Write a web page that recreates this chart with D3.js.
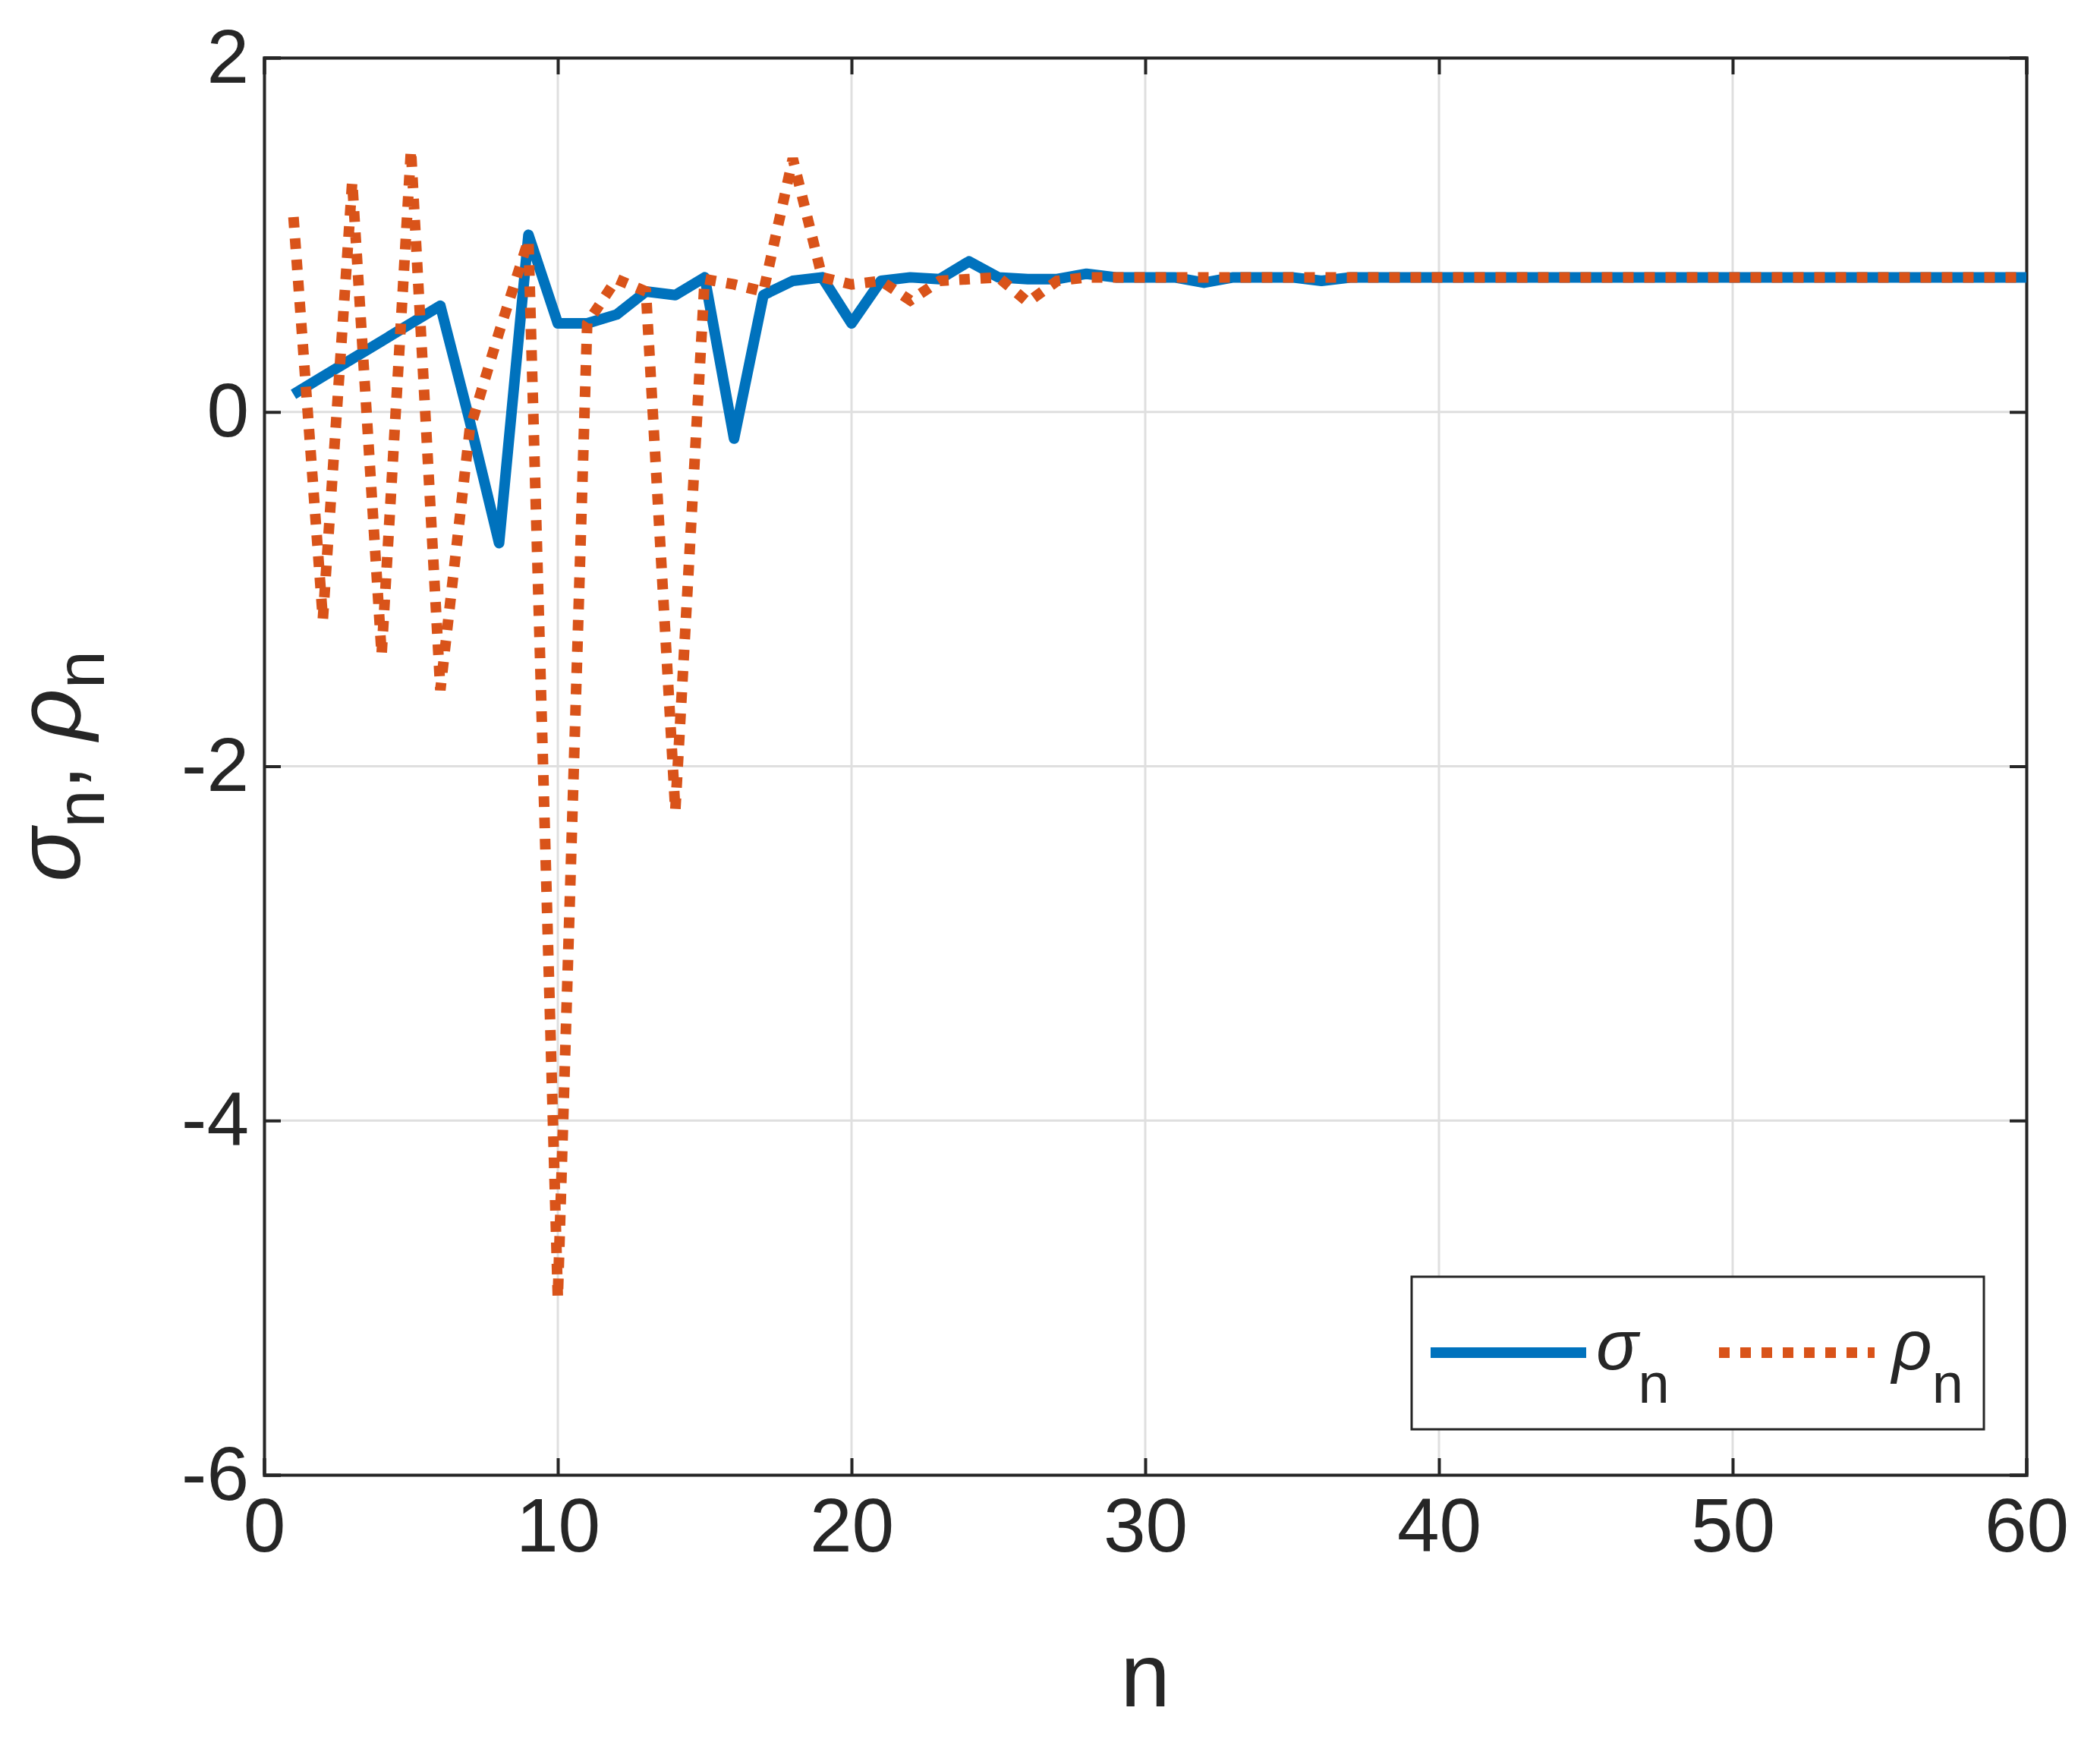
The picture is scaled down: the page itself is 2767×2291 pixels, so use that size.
<!DOCTYPE html>
<html><head><meta charset="utf-8">
<script src="https://cdn.jsdelivr.net/npm/d3@7"></script>
<style>body{margin:0;background:#fff}</style></head>
<body><svg id="c" width="2767" height="2291"></svg>
<script>
const nValues = d3.range(1, 61);
const sigma = [0.1,0.2,0.3,0.4,0.5,0.6,-0.05,-0.74,1.0,0.5,0.5,0.55,0.68,0.66,0.76,-0.15,0.66,0.74,0.76,0.5,
  0.74,0.76,0.75,0.85,0.76,0.75,0.75,0.78,0.76,0.76,0.76,0.73,0.76,0.76,0.76,0.74,0.76,0.76,0.76,0.76,
  0.76,0.76,0.76,0.76,0.76,0.76,0.76,0.76,0.76,0.76,0.76,0.76,0.76,0.76,0.76,0.76,0.76,0.76,0.76,0.76];
const rho = [1.1,-1.17,1.3,-1.37,1.48,-1.57,-0.1,0.45,0.97,-5.0,0.5,0.75,0.68,-2.25,0.75,0.72,0.68,1.43,0.76,0.72,
  0.74,0.63,0.74,0.75,0.76,0.62,0.74,0.76,0.76,0.76,0.76,0.76,0.76,0.76,0.76,0.76,0.76,0.76,0.76,0.76,
  0.76,0.76,0.76,0.76,0.76,0.76,0.76,0.76,0.76,0.76,0.76,0.76,0.76,0.76,0.76,0.76,0.76,0.76,0.76,0.76];
const xTicks = [0,10,20,30,40,50,60];
const yTicks = [-6,-4,-2,0,2];

const svg = d3.select("#c");
const L=348, R=2670, T=76, B=1943;
const x = d3.scaleLinear().domain([0,60]).range([L,R]);
const y = d3.scaleLinear().domain([-6,2]).range([B,T]);
const ink="#262626", font="Liberation Sans, Arial, sans-serif";

const g = svg.append("g");
xTicks.forEach(t=>g.append("line").attr("x1",x(t)).attr("x2",x(t)).attr("y1",T).attr("y2",B).attr("stroke","#dfdfdf").attr("stroke-width",3));
yTicks.forEach(t=>g.append("line").attr("x1",L).attr("x2",R).attr("y1",y(t)).attr("y2",y(t)).attr("stroke","#dfdfdf").attr("stroke-width",3));

const fmt = d => String(d);
const xa = svg.append("g").attr("transform",`translate(0,${B})`).call(d3.axisBottom(x).tickValues(xTicks).tickSize(-22).tickPadding(30).tickFormat(fmt));
const xa2 = svg.append("g").attr("transform",`translate(0,${T})`).call(d3.axisTop(x).tickValues(xTicks).tickSize(-22).tickFormat(""));
const ya = svg.append("g").attr("transform",`translate(${L},0)`).call(d3.axisLeft(y).tickValues(yTicks).tickSize(-22).tickPadding(20).tickFormat(fmt));
const ya2 = svg.append("g").attr("transform",`translate(${R},0)`).call(d3.axisRight(y).tickValues(yTicks).tickSize(-22).tickFormat(""));
[xa,xa2,ya,ya2].forEach(a=>{a.selectAll("path").attr("stroke",ink).attr("stroke-width",4);
  a.selectAll("line").attr("stroke",ink).attr("stroke-width",4);
  a.selectAll("text").attr("fill",ink).attr("font-size",100).attr("font-family",font);});
xa.selectAll("text").attr("dy","0.71em");

const line = d3.line().x((d,i)=>x(nValues[i])).y(d=>y(d));
svg.append("path").datum(sigma).attr("d",line).attr("fill","none").attr("stroke","#0072bd").attr("stroke-width",14).attr("stroke-linejoin","round");
svg.append("path").datum(rho).attr("d",line).attr("fill","none").attr("stroke","#d95319").attr("stroke-width",14).attr("stroke-dasharray","14,14");

svg.append("text").attr("x",(L+R)/2).attr("y",2248).attr("text-anchor","middle").attr("font-size",118).attr("font-family",font).attr("fill",ink).text("n");
const yl = svg.append("text").attr("transform",`translate(105,${(T+B)/2}) rotate(-90)`).attr("text-anchor","middle").attr("font-size",118).attr("font-family",font).attr("fill",ink);
yl.append("tspan").attr("font-style","italic").text("σ");
yl.append("tspan").attr("font-size",90).attr("dy",32).text("n");
yl.append("tspan").attr("dy",-32).text(", ");
yl.append("tspan").attr("font-style","italic").text("ρ");
yl.append("tspan").attr("font-size",90).attr("dy",32).text("n");

// legend
const lx=1860, ly=1682, lw=754, lh=201;
svg.append("rect").attr("x",lx).attr("y",ly).attr("width",lw).attr("height",lh).attr("fill","#fff").attr("stroke",ink).attr("stroke-width",3);
const cy = ly+100;
svg.append("line").attr("x1",lx+25).attr("x2",lx+230).attr("y1",cy).attr("y2",cy).attr("stroke","#0072bd").attr("stroke-width",14);
svg.append("line").attr("x1",lx+405).attr("x2",lx+610).attr("y1",cy).attr("y2",cy).attr("stroke","#d95319").attr("stroke-width",14).attr("stroke-dasharray","14,14");
[[lx+243,"σ"],[lx+633,"ρ"]].forEach(([tx,s])=>{
  const t=svg.append("text").attr("x",tx).attr("y",cy+22).attr("font-size",92).attr("font-family",font).attr("fill",ink);
  t.append("tspan").attr("font-style","italic").text(s);
  t.append("tspan").attr("font-size",74).attr("dy",44).text("n");
});
</script></body></html>
